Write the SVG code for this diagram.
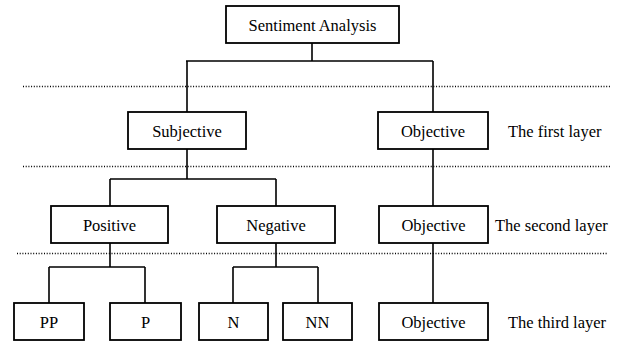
<svg xmlns="http://www.w3.org/2000/svg" width="617" height="341" viewBox="0 0 617 341">
<style>
.box{fill:#fff;stroke:#000;stroke-width:1.8}
text{font-family:'Liberation Serif','Times New Roman',Times,serif;font-size:16.5px;fill:#000}
.lbl{text-anchor:middle}
.con{fill:none;stroke:#000;stroke-width:1.6}
.dot{stroke:#000;stroke-width:1.3;stroke-dasharray:1 1.7}
</style>
<rect width="617" height="341" fill="#fff"/>
<g id="separators">
<line class="dot" x1="23" y1="86.5" x2="610" y2="86.5"/>
<line class="dot" x1="23" y1="166.5" x2="610" y2="166.5"/>
<line class="dot" x1="17" y1="253.5" x2="608" y2="253.5"/>
</g>
<g id="connectors">
<path class="con" d="M312,43 V61 M186,61 H433 M187,61 V112 M433,61 V112"/>
<path class="con" d="M187,149 V179 M110,179 H276 M110,179 V206 M276,179 V206"/>
<path class="con" d="M433,149 V206"/>
<path class="con" d="M110,243 V267 M49,267 H145 M49,267 V303 M145,267 V303"/>
<path class="con" d="M276,243 V267 M233,267 H318 M233,267 V303 M318,267 V303"/>
<path class="con" d="M433,243 V303"/>
</g>
<g id="sentiment-analysis"><rect class="box" x="226" y="6" width="173" height="37"/><text class="lbl" x="312.5" y="31" font-family="Liberation Serif, serif">Sentiment Analysis</text></g>
<g id="subjective"><rect class="box" x="128" y="112" width="118" height="37"/><text class="lbl" x="187" y="137" font-family="Liberation Serif, serif">Subjective</text></g>
<g id="objective-1"><rect class="box" x="378" y="112" width="110" height="37"/><text class="lbl" x="433" y="137" font-family="Liberation Serif, serif">Objective</text></g>
<g id="positive"><rect class="box" x="51" y="206" width="117" height="37"/><text class="lbl" x="109.5" y="231" font-family="Liberation Serif, serif">Positive</text></g>
<g id="negative"><rect class="box" x="217" y="206" width="118" height="37"/><text class="lbl" x="276" y="231" font-family="Liberation Serif, serif">Negative</text></g>
<g id="objective-2"><rect class="box" x="379" y="206" width="109" height="37"/><text class="lbl" x="433.5" y="231" font-family="Liberation Serif, serif">Objective</text></g>
<g id="pp"><rect class="box" x="14" y="303" width="70" height="37"/><text class="lbl" x="49" y="328" font-family="Liberation Serif, serif">PP</text></g>
<g id="p"><rect class="box" x="110" y="303" width="71" height="37"/><text class="lbl" x="145.5" y="328" font-family="Liberation Serif, serif">P</text></g>
<g id="n"><rect class="box" x="199" y="303" width="69" height="37"/><text class="lbl" x="233.5" y="328" font-family="Liberation Serif, serif">N</text></g>
<g id="nn"><rect class="box" x="283" y="303" width="69" height="37"/><text class="lbl" x="317.5" y="328" font-family="Liberation Serif, serif">NN</text></g>
<g id="objective-3"><rect class="box" x="379" y="303" width="109" height="37"/><text class="lbl" x="433.5" y="328" font-family="Liberation Serif, serif">Objective</text></g>
<g id="layer-labels">
<text x="508" y="137" font-family="Liberation Serif, serif">The first layer</text>
<text x="495" y="231" font-family="Liberation Serif, serif">The second layer</text>
<text x="508" y="328" font-family="Liberation Serif, serif">The third layer</text>
</g>
</svg>
